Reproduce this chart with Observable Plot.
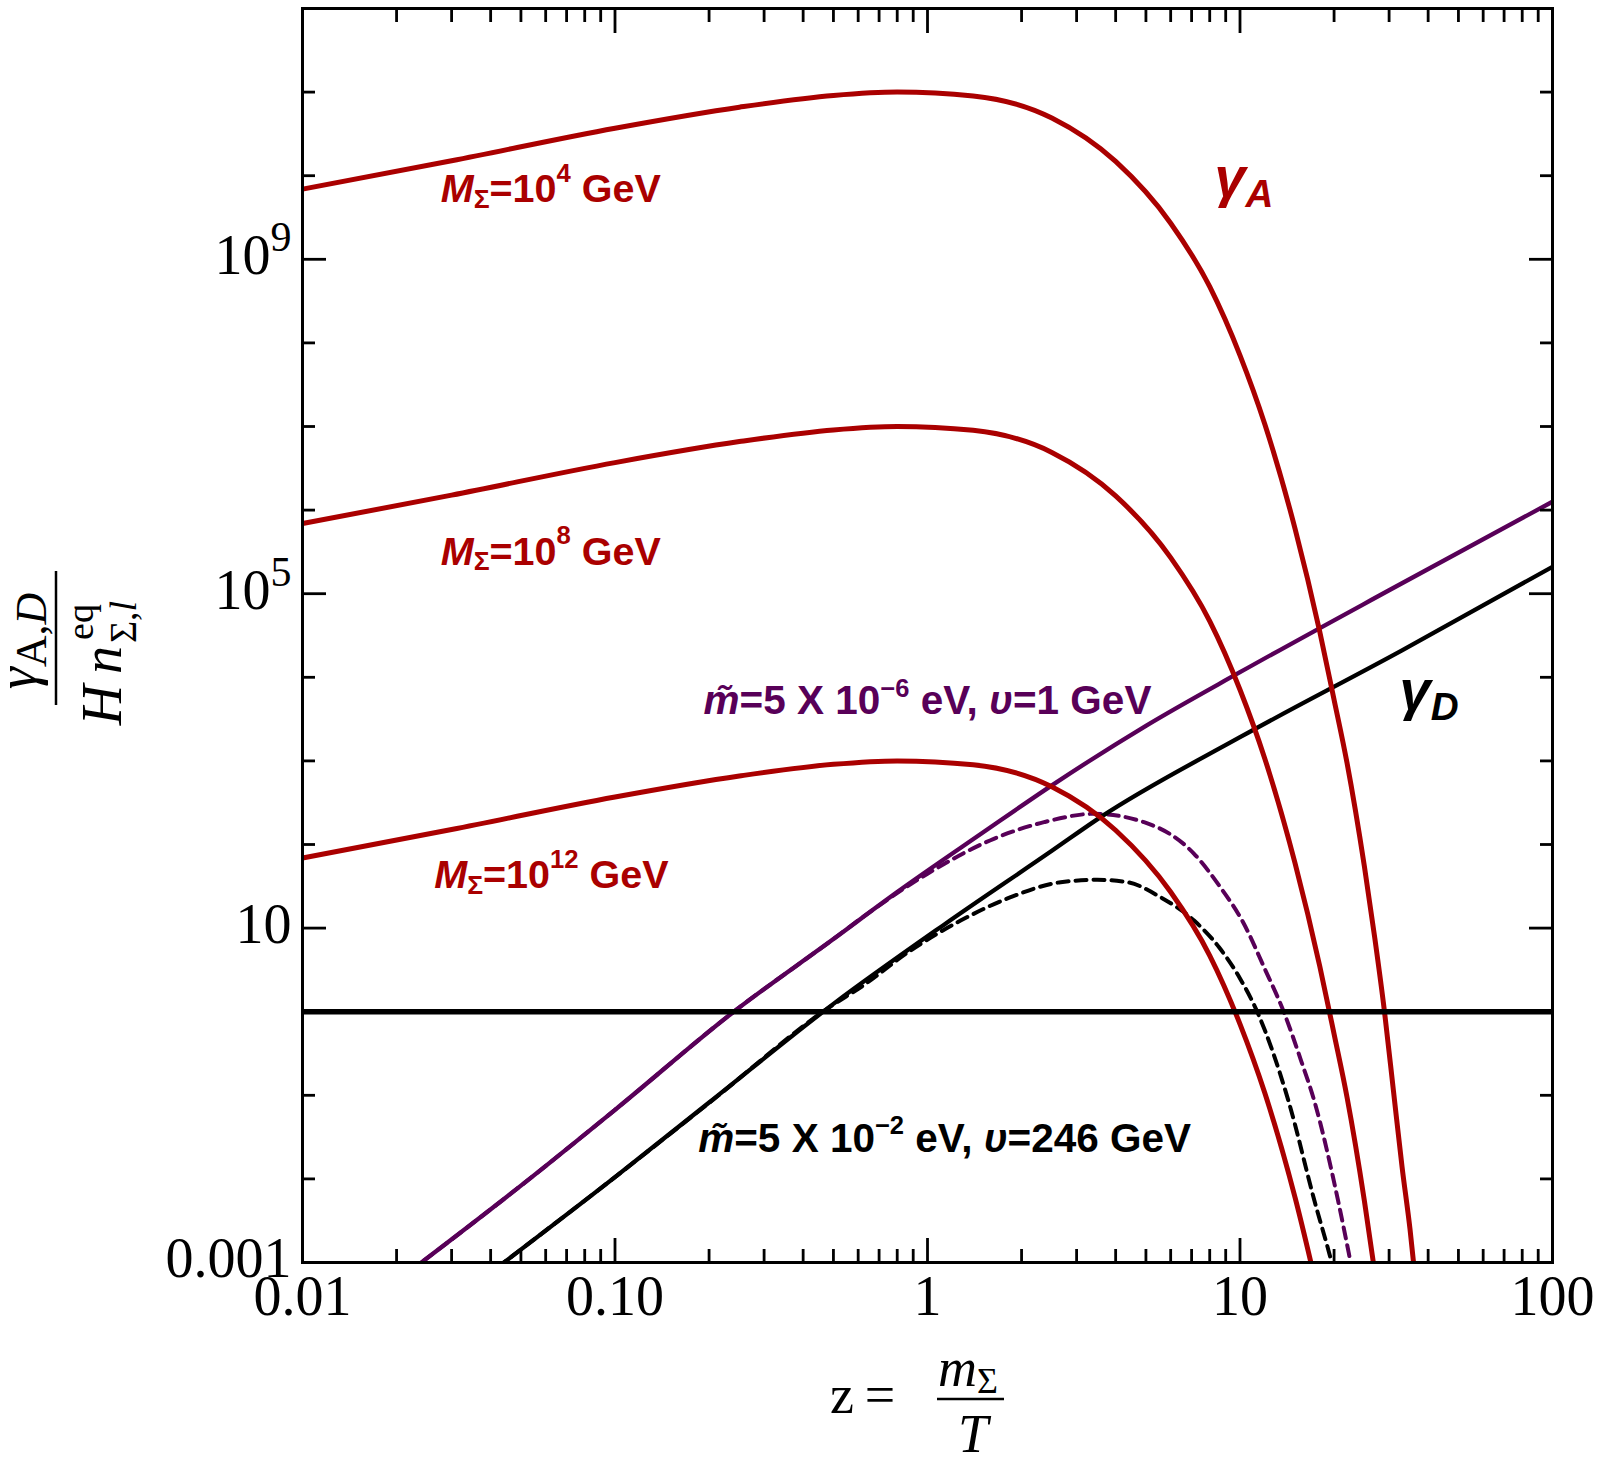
<!DOCTYPE html>
<html><head><meta charset="utf-8">
<script src="https://cdn.jsdelivr.net/npm/d3@7"></script>
<script src="https://cdn.jsdelivr.net/npm/@observablehq/plot@0.6"></script>
<style>
html,body{margin:0;padding:0;background:#fff;}
#chart{width:1600px;height:1464px;position:relative;}
text{white-space:pre;}
</style></head><body><div id="chart"></div>
<script>
// ---------------- data ----------------
// gamma_A / (H n_eq) for three triplet masses
const zA4 = [0.01, 0.03, 0.1, 0.25, 0.5, 0.8, 1.4, 2.5, 4, 6, 8, 10, 12, 15, 18, 20, 22, 25, 27, 29, 31, 33, 35, 37];
const gammaA_M1e4 = [6.9e9, 1.51e10, 3.7e10, 6.6e10, 9.1e10, 1.0e11, 9.0e10, 4.9e10, 1.48e10, 2.7e9, 4.7e8, 7.1e7, 1.07e7, 6.0e5, 3.5e4, 5.4e3, 950, 55, 7.6, 1.0, 0.11, 0.014, 0.0025, 0.00035];
const zA8 = [0.01, 0.03, 0.1, 0.25, 0.5, 0.8, 1.4, 2.5, 4, 6, 8, 10, 12, 15, 18, 20, 22, 25, 27];
const gammaA_M1e8 = [6.9e5, 1.51e6, 3.7e6, 6.6e6, 9.1e6, 1.0e7, 9.0e6, 4.9e6, 1.48e6, 2.7e5, 4.7e4, 7.1e3, 1.07e3, 60, 3.5, 0.54, 0.095, 0.0055, 0.00076];
const zA12 = [0.01, 0.03, 0.1, 0.25, 0.5, 0.8, 1.4, 2.5, 4, 6, 8, 10, 12, 15, 18];
const gammaA_M1e12 = [69, 151, 370, 660, 910, 1000, 900, 490, 148, 27, 4.7, 0.71, 0.107, 0.006, 0.00035];

// gamma_D / (H n_eq): m~ = 5e-6 eV, v = 1 GeV (purple)
const zDp = [0.022, 0.05, 0.1, 0.24, 0.5, 0.8, 1.5, 2.5, 5, 10, 30, 100];
const gammaD_purple = [7.8e-4, 8.3e-3, 0.067, 1.0, 7.4, 27, 138, 510, 2630, 1.15e4, 1.1e5, 1.26e6];
const zDpDash = [0.022, 0.05, 0.1, 0.24, 0.5, 0.61, 1.0, 1.63, 2.36, 3.41, 4.93, 7.13, 8.57, 10.3, 11.94, 13.8, 15.7, 17.3, 20.6, 22.6, 24];
const gammaD_purpleDash = [7.8e-4, 8.3e-3, 0.067, 1.0, 7.4, 12.9, 44.7, 117, 185, 233, 185, 77.4, 32.4, 11.2, 3.4, 1.0, 0.257, 0.085, 0.0055, 0.001, 3.2e-4];

// gamma_D / (H n_eq): m~ = 5e-2 eV, v = 246 GeV (black)
const zDb = [0.042, 0.1, 0.2, 0.5, 1.13, 2.5, 3.57, 10, 33, 100];
const gammaD_black = [8.7e-4, 0.0105, 0.082, 1.24, 11, 84, 211, 1920, 2.1e4, 2.1e5];
const zDbDash = [0.042, 0.1, 0.2, 0.5, 0.611, 0.883, 1.276, 1.845, 2.667, 3.49, 4.36, 5.57, 7.13, 8.57, 10, 11.35, 14.3, 17.3, 19.8, 21.4];
const gammaD_blackDash = [8.7e-4, 0.0105, 0.081, 1.22, 1.96, 5.4, 12.3, 23.4, 35.4, 37.8, 35.4, 23.4, 12.3, 5.9, 2.5, 1.0, 0.085, 0.0055, 8.9e-4, 2.5e-4];

const referenceLevel = [1];

// axis ticks
const xMajor = [0.01, 0.1, 1, 10, 100];
const xTickLabels = ["0.01", "0.10", "1", "10", "100"];
const yMajor = [1e-3, 10, 1e5, 1e9];
const yTickLabels = ["0.001", "10", "10^{5}", "10^{9}"];

// annotations (anchor in data coordinates)
const redLabels = [
  {text: "*M*_{Σ}=10^{4} GeV", z: 0.0277, v: 4.78e9},
  {text: "*M*_{Σ}=10^{8} GeV", z: 0.0277, v: 2.23e5},
  {text: "*M*_{Σ}=10^{12} GeV", z: 0.0264, v: 29.8}
];
const gammaLabels = [
  {text: "*γ*_{*A*}", z: 8.28, v: 5.64e9, color: "red"},
  {text: "*γ*_{*D*}", z: 32.4, v: 4.12e3, color: "black"}
];
const decayLabels = [
  {text: "*m\u0303*=5 X 10^{\u22126} eV, *υ*=1 GeV", z: 0.192, v: 3.63e3, color: "purple"},
  {text: "*m\u0303*=5 X 10^{\u22122} eV, *υ*=246 GeV", z: 0.1846, v: 0.0211, color: "black"}
];

// ---------------- chart ----------------
const RED = "#aa0000", PURPLE = "#580058";
const colorOf = c => c === "red" ? RED : c === "purple" ? PURPLE : "black";
const series = (z, v) => z.map((d, i) => ({z: d, v: v[i]}));

const xMinor = [];
for (let k = -2; k <= 1; k++) for (let m = 2; m <= 9; m++) xMinor.push(+(m * Math.pow(10, k)).toPrecision(3));
const yMinor = [];
for (let k = -3; k <= 12; k++) if (!yMajor.some(v => Math.abs(Math.log10(v) - k) < 1e-9)) yMinor.push(Math.pow(10, k));

const xLabelMap = new Map(xMajor.map((v, i) => [v, xTickLabels[i]]));
const yTicks = yMajor.map((v, i) => ({value: v, label: yTickLabels[i]}));

const lineOpts = {x: "z", y: "v", curve: "monotone-x", clip: true};
const tickOpts = {tickFormat: () => "", label: null, strokeWidth: 2.8};
const SANS = "'Liberation Sans', Arial, sans-serif";

const plot = Plot.plot({
  width: 1600, height: 1464,
  marginLeft: 302, marginRight: 48, marginTop: 8, marginBottom: 202,
  x: {type: "log", domain: [0.01, 100]},
  y: {type: "log", domain: [1e-3, 1e12]},
  style: {fontFamily: "'Liberation Serif', 'Times New Roman', serif", background: "white", color: "black", overflow: "visible"},
  marks: [
    Plot.line(series(zDbDash, gammaD_blackDash), {...lineOpts, stroke: "black", strokeWidth: 4, strokeDasharray: "11,7"}),
    Plot.line(series(zDpDash, gammaD_purpleDash), {...lineOpts, stroke: PURPLE, strokeWidth: 4, strokeDasharray: "11,7"}),
    Plot.line(series(zDb, gammaD_black), {...lineOpts, stroke: "black", strokeWidth: 4.3}),
    Plot.line(series(zDp, gammaD_purple), {...lineOpts, stroke: PURPLE, strokeWidth: 4.3}),
    Plot.line(series(zA12, gammaA_M1e12), {...lineOpts, stroke: RED, strokeWidth: 5}),
    Plot.line(series(zA8, gammaA_M1e8), {...lineOpts, stroke: RED, strokeWidth: 5}),
    Plot.line(series(zA4, gammaA_M1e4), {...lineOpts, stroke: RED, strokeWidth: 5}),
    Plot.ruleY(referenceLevel, {stroke: "black", strokeWidth: 5.5}),
    Plot.frame({stroke: "black", strokeWidth: 3}),
    // inward ticks
    Plot.axisX(xMinor, {anchor: "bottom", tickSize: -13, ...tickOpts}),
    Plot.axisX(xMinor, {anchor: "top", tickSize: -13, ...tickOpts}),
    Plot.axisX(xMajor, {anchor: "bottom", tickSize: -24, ...tickOpts}),
    Plot.axisX(xMajor, {anchor: "top", tickSize: -24, ...tickOpts}),
    Plot.axisY(yMinor, {anchor: "left", tickSize: -13, ...tickOpts}),
    Plot.axisY(yMinor, {anchor: "right", tickSize: -13, ...tickOpts}),
    Plot.axisY(yMajor, {anchor: "left", tickSize: -24, ...tickOpts}),
    Plot.axisY(yMajor, {anchor: "right", tickSize: -24, ...tickOpts}),
    // tick labels
    Plot.axisX(xMajor, {anchor: "bottom", tickSize: 0, tickPadding: 13, tickFormat: d => xLabelMap.get(d), fontSize: 56, label: null}),
    Plot.text(yTicks, {y: "value", text: "label", frameAnchor: "left", dx: -11, dy: -3, textAnchor: "end", lineAnchor: "middle", fontSize: 56}),
    // annotations
    Plot.text(redLabels, {x: "z", y: "v", text: "text", fill: RED, fontSize: 39.5, fontWeight: "bold", fontFamily: SANS, textAnchor: "start", lineAnchor: "bottom"}),
    Plot.text(gammaLabels, {x: "z", y: "v", text: "text", fill: d => colorOf(d.color), fontSize: 56, fontWeight: "bold", fontFamily: SANS, textAnchor: "start", lineAnchor: "bottom"}),
    Plot.text(decayLabels, {x: "z", y: "v", text: "text", fill: d => colorOf(d.color), fontSize: 40.5, fontWeight: "bold", fontFamily: SANS, textAnchor: "start", lineAnchor: "bottom"})
  ]
});

document.getElementById("chart").append(plot);

// ---------- rich text (sub/superscripts, italics) ----------
const SVGNS = "http://www.w3.org/2000/svg";
function parseMarkup(s) {
  const segs = []; let mode = "n", italic = false, buf = "";
  const flush = () => { if (buf) segs.push({t: buf, mode, italic}); buf = ""; };
  for (let i = 0; i < s.length; i++) {
    const c = s[i];
    if ((c === "^" || c === "_") && s[i + 1] === "{") { flush(); mode = c === "^" ? "sup" : "sub"; i++; continue; }
    if (c === "}" && mode !== "n") { flush(); mode = "n"; continue; }
    if (c === "*") { flush(); italic = !italic; continue; }
    buf += c;
  }
  flush();
  return segs;
}
function richify(el, o) {
  const fs = parseFloat(getComputedStyle(el).fontSize);
  const segs = parseMarkup(el.textContent);
  while (el.firstChild) el.removeChild(el.firstChild);
  let cur = 0;
  for (const sg of segs) {
    const ts = document.createElementNS(SVGNS, "tspan");
    const target = sg.mode === "sup" ? -o.supRise * fs : sg.mode === "sub" ? o.subDrop * fs : 0;
    const dy = target - cur;
    if (dy) ts.setAttribute("dy", dy.toFixed(2));
    cur = target;
    if (sg.mode === "sup") ts.setAttribute("font-size", (o.supScale * fs).toFixed(2));
    if (sg.mode === "sub") ts.setAttribute("font-size", (o.subScale * fs).toFixed(2));
    if (sg.italic) ts.setAttribute("font-style", "italic");
    ts.textContent = sg.t;
    el.appendChild(ts);
  }
}
plot.querySelectorAll("text").forEach(el => {
  const t = el.textContent;
  if (!/[\^_*]/.test(t)) return;
  let o;
  if (t.startsWith("*M*")) o = {supScale: 0.65, supRise: 0.52, subScale: 0.67, subDrop: 0.13};
  else if (t.startsWith("*m")) o = {supScale: 0.63, supRise: 0.43, subScale: 0.67, subDrop: 0.13};
  else if (t.startsWith("*γ*")) o = {supScale: 0.69, supRise: 0.4, subScale: 0.69, subDrop: 0.18};
  else o = {supScale: 0.75, supRise: 0.41, subScale: 0.7, subDrop: 0.2};
  richify(el, o);
});

// ---------- axis titles ----------
const svg = d3.select(plot);
const SERIF = "'Liberation Serif', 'Times New Roman', serif";
// x title: z = m_Σ / T
const gx = svg.append("g").attr("font-family", SERIF).attr("font-size", 54).attr("fill", "black");
gx.append("text").attr("x", 842).attr("y", 1413).text("z");
gx.append("text").attr("x", 880).attr("y", 1413).text("=");
gx.append("line").attr("x1", 937).attr("x2", 1004).attr("y1", 1399).attr("y2", 1399).attr("stroke", "black").attr("stroke-width", 2.5);
const num = gx.append("text").attr("x", 968).attr("y", 1386).attr("text-anchor", "middle");
num.append("tspan").attr("font-style", "italic").text("m");
num.append("tspan").attr("font-size", 36).attr("dy", 7).text("Σ");
gx.append("text").attr("x", 973).attr("y", 1452).attr("text-anchor", "middle").attr("font-style", "italic").text("T");

// y title: γ_{A,D} / (H n^eq_{Σ,l}), rotated
const gy = svg.append("g").attr("transform", "translate(56,638) rotate(-90)")
  .attr("font-family", SERIF).attr("font-size", 56).attr("fill", "black");
const yn = gy.append("text").attr("x", -3).attr("y", -20).attr("text-anchor", "middle");
yn.append("tspan").attr("font-style", "italic").text("γ");
yn.append("tspan").attr("font-size", 44).attr("dy", 10).text("A,");
yn.append("tspan").attr("font-size", 44).attr("font-style", "italic").text("D");
gy.append("line").attr("x1", -67).attr("x2", 67).attr("y1", 0).attr("y2", 0).attr("stroke", "black").attr("stroke-width", 2.5);
gy.append("text").attr("x", -67).attr("y", 65).attr("font-style", "italic").text("H");
gy.append("text").attr("x", -22).attr("y", 65).attr("font-style", "italic").text("n");
gy.append("text").attr("x", 16).attr("y", 37).attr("font-size", 38).text("eq");
const ysub = gy.append("text").attr("x", 16).attr("y", 80).attr("font-size", 38);
ysub.append("tspan").text("Σ,");
ysub.append("tspan").attr("font-style", "italic").text("l");
</script>
</body></html>
